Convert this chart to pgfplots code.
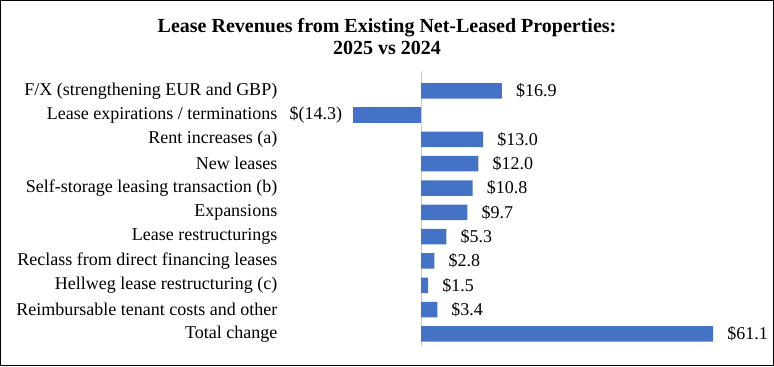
\documentclass[border=0pt]{standalone}
\usepackage{pgfplots}
\pgfplotsset{compat=1.18}
\usepackage{pgfplotstable}
\usepackage{fontspec}
\setmainfont{Liberation Serif}
\definecolor{barblue}{HTML}{4472C4}
\pgfplotstableread{
y x lab
0 16.9 16.9
2 13.0 13.0
3 12.0 12.0
4 10.8 10.8
5 9.7 9.7
6 5.3 5.3
7 2.8 2.8
8 1.5 1.5
9 3.4 3.4
10 61.1 61.1
}\pos
\pgfplotstableread{
y x lab
1 -14.3 (14.3)
}\neg
\begin{document}
\begin{tikzpicture}[x=1bp,y=1bp]
\draw[line width=1bp] (0.5,0.5) rectangle (773.5,365.5);
\node[anchor=base, font=\bfseries\fontsize{20bp}{22bp}\selectfont] at (387,333.5) {Lease Revenues from Existing Net-Leased Properties:};
\node[anchor=base, font=\bfseries\fontsize{20bp}{22bp}\selectfont] at (387,311.5) {2025 vs 2024};
\begin{axis}[
  at={(281bp,20bp)}, anchor=south west,
  scale only axis, width=450.7bp, height=274.6bp,
  xbar, bar width=15.5bp, bar shift=0pt,
  xmin=-29.3, xmax=65, ymin=-0.8, ymax=10.5,
  y dir=reverse,
  clip=false,
  axis line style={draw=none},
  tick style={draw=none},
  xtick=\empty,
  ytick={0,...,10},
  yticklabels={{F/X (strengthening EUR and GBP)},{Lease expirations / terminations},{Rent increases (a)},{New leases},{Self-storage leasing transaction (b)},{Expansions},{Lease restructurings},{Reclass from direct financing leases},{Hellweg lease restructuring (c)},{Reimbursable tenant costs and other},{Total change}},
  yticklabel style={font=\fontsize{18bp}{20bp}\selectfont, anchor=east, inner sep=3.3bp, xshift=4bp},
  point meta=explicit symbolic,
  nodes near coords={\$\pgfplotspointmeta},
]
\draw[color=black!20, line width=0.8bp] (axis cs:0,-0.8) -- (axis cs:0,10.5);
\addplot[fill=barblue, draw=none, nodes near coords style={anchor=west, inner sep=0pt, xshift=14bp, font=\fontsize{18bp}{20bp}\selectfont, text=black}] table[x=x, y=y, meta=lab] {\pos};
\addplot[fill=barblue, draw=none, nodes near coords style={anchor=east, inner sep=0pt, xshift=-10.5bp, font=\fontsize{18bp}{20bp}\selectfont, text=black}] table[x=x, y=y, meta=lab] {\neg};
\end{axis}
\end{tikzpicture}
\end{document}
